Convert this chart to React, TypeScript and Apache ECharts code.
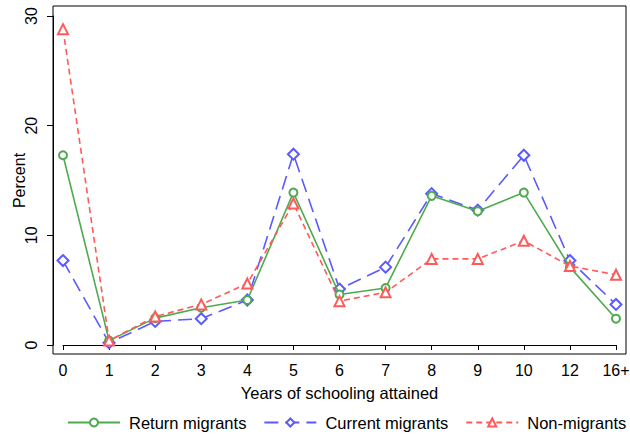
import React, { useEffect, useRef } from "react";
import * as echarts from "echarts";

const categories = ["0", "1", "2", "3", "4", "5", "6", "7", "8", "9", "10", "12", "16+"];
const returnMigrants = [17.3, 0.4, 2.45, 3.4, 4.1, 13.9, 4.6, 5.2, 13.6, 12.2, 13.9, 7.1, 2.4];
const currentMigrants = [7.7, 0.2, 2.15, 2.4, 4.1, 17.4, 5.1, 7.1, 13.8, 12.3, 17.3, 7.7, 3.7];
const nonMigrants = [28.8, 0.4, 2.6, 3.7, 5.6, 12.9, 4.0, 4.8, 7.85, 7.85, 9.5, 7.2, 6.4];
const yTicks = [0, 10, 20, 30];

const GREEN = "#4faa4f";
const BLUE = "#5a5aff";
const RED = "#ff5a5a";
const FONT = "Liberation Sans, Arial, sans-serif";

export default function App() {
  const ref = useRef<HTMLDivElement>(null);
  useEffect(() => {
    if (!ref.current) return;
    const chart = echarts.init(ref.current, undefined, { renderer: "svg" });
    chart.setOption({
      animation: false,
      backgroundColor: "#ffffff",
      textStyle: { fontFamily: FONT, color: "#000" },
      grid: { left: 63, right: 14, top: 16, bottom: 93, containLabel: false, outerBoundsMode: "none" },
      graphic: [
        {
          type: "rect",
          shape: { x: 53, y: 6, width: 573, height: 348 },
          style: { fill: "none", stroke: "#000", lineWidth: 1 },
          silent: true,
          z: 0,
        },
      ],
      xAxis: {
        type: "category",
        data: categories,
        boundaryGap: false,
        offset: 9,
        name: "Years of schooling attained",
        nameLocation: "middle",
        nameGap: 30,
        nameTextStyle: { fontSize: 16.5, color: "#000", fontFamily: FONT },
        axisLine: { lineStyle: { color: "#000", width: 1 } },
        axisTick: { length: 5, lineStyle: { color: "#000" }, alignWithLabel: true },
        axisLabel: { fontSize: 16, color: "#000", margin: 8, fontFamily: FONT, interval: 0 },
        splitLine: { show: false },
      },
      yAxis: {
        type: "value",
        min: 0,
        max: 30,
        interval: 10,
        offset: 10,
        name: "Percent",
        nameLocation: "middle",
        nameGap: 26,
        nameMoveOverlap: false,
        nameRotate: 90,
        nameTextStyle: { fontSize: 16, color: "#000", fontFamily: FONT },
        axisLine: { show: true, lineStyle: { color: "#000", width: 1 } },
        axisTick: { show: true, length: 6, lineStyle: { color: "#000" } },
        axisLabel: {
          fontSize: 16,
          color: "#000",
          rotate: 90,
          margin: 14,
          align: "center",
          verticalAlign: "bottom",
          fontFamily: FONT,
          formatter: (v: number) => (yTicks.includes(v) ? String(v) : ""),
        },
        splitLine: { show: false },
      },
      legend: {
        bottom: 2,
        left: 62,
        width: 568,
        itemWidth: 52,
        itemHeight: 10,
        itemGap: 17,
        textStyle: { fontSize: 16.5, color: "#000", fontFamily: FONT, padding: [0, 0, 0, 4] },
        data: ["Return migrants", "Current migrants", "Non-migrants"],
      },
      series: [
        {
          name: "Return migrants",
          type: "line",
          data: returnMigrants,
          symbol: "emptyCircle",
          symbolSize: 8,
          itemStyle: { color: GREEN, borderWidth: 1.2 },
          lineStyle: { color: GREEN, width: 1.6, type: "solid" },
          z: 3,
        },
        {
          name: "Current migrants",
          type: "line",
          data: currentMigrants,
          symbol: "emptyDiamond",
          symbolSize: 11,
          itemStyle: { color: BLUE, borderWidth: 1.2 },
          lineStyle: { color: BLUE, width: 1.6, type: [14, 7] },
          z: 2,
        },
        {
          name: "Non-migrants",
          type: "line",
          data: nonMigrants,
          symbol: "emptyTriangle",
          symbolSize: 10,
          itemStyle: { color: RED, borderWidth: 1.2 },
          lineStyle: { color: RED, width: 1.6, type: [6, 4] },
          z: 4,
        },
      ],
    });
    return () => chart.dispose();
  }, []);
  return (
    <div
      ref={ref}
      style={{ position: "fixed", left: 0, top: 0, width: 630, height: 438 }}
    />
  );
}
